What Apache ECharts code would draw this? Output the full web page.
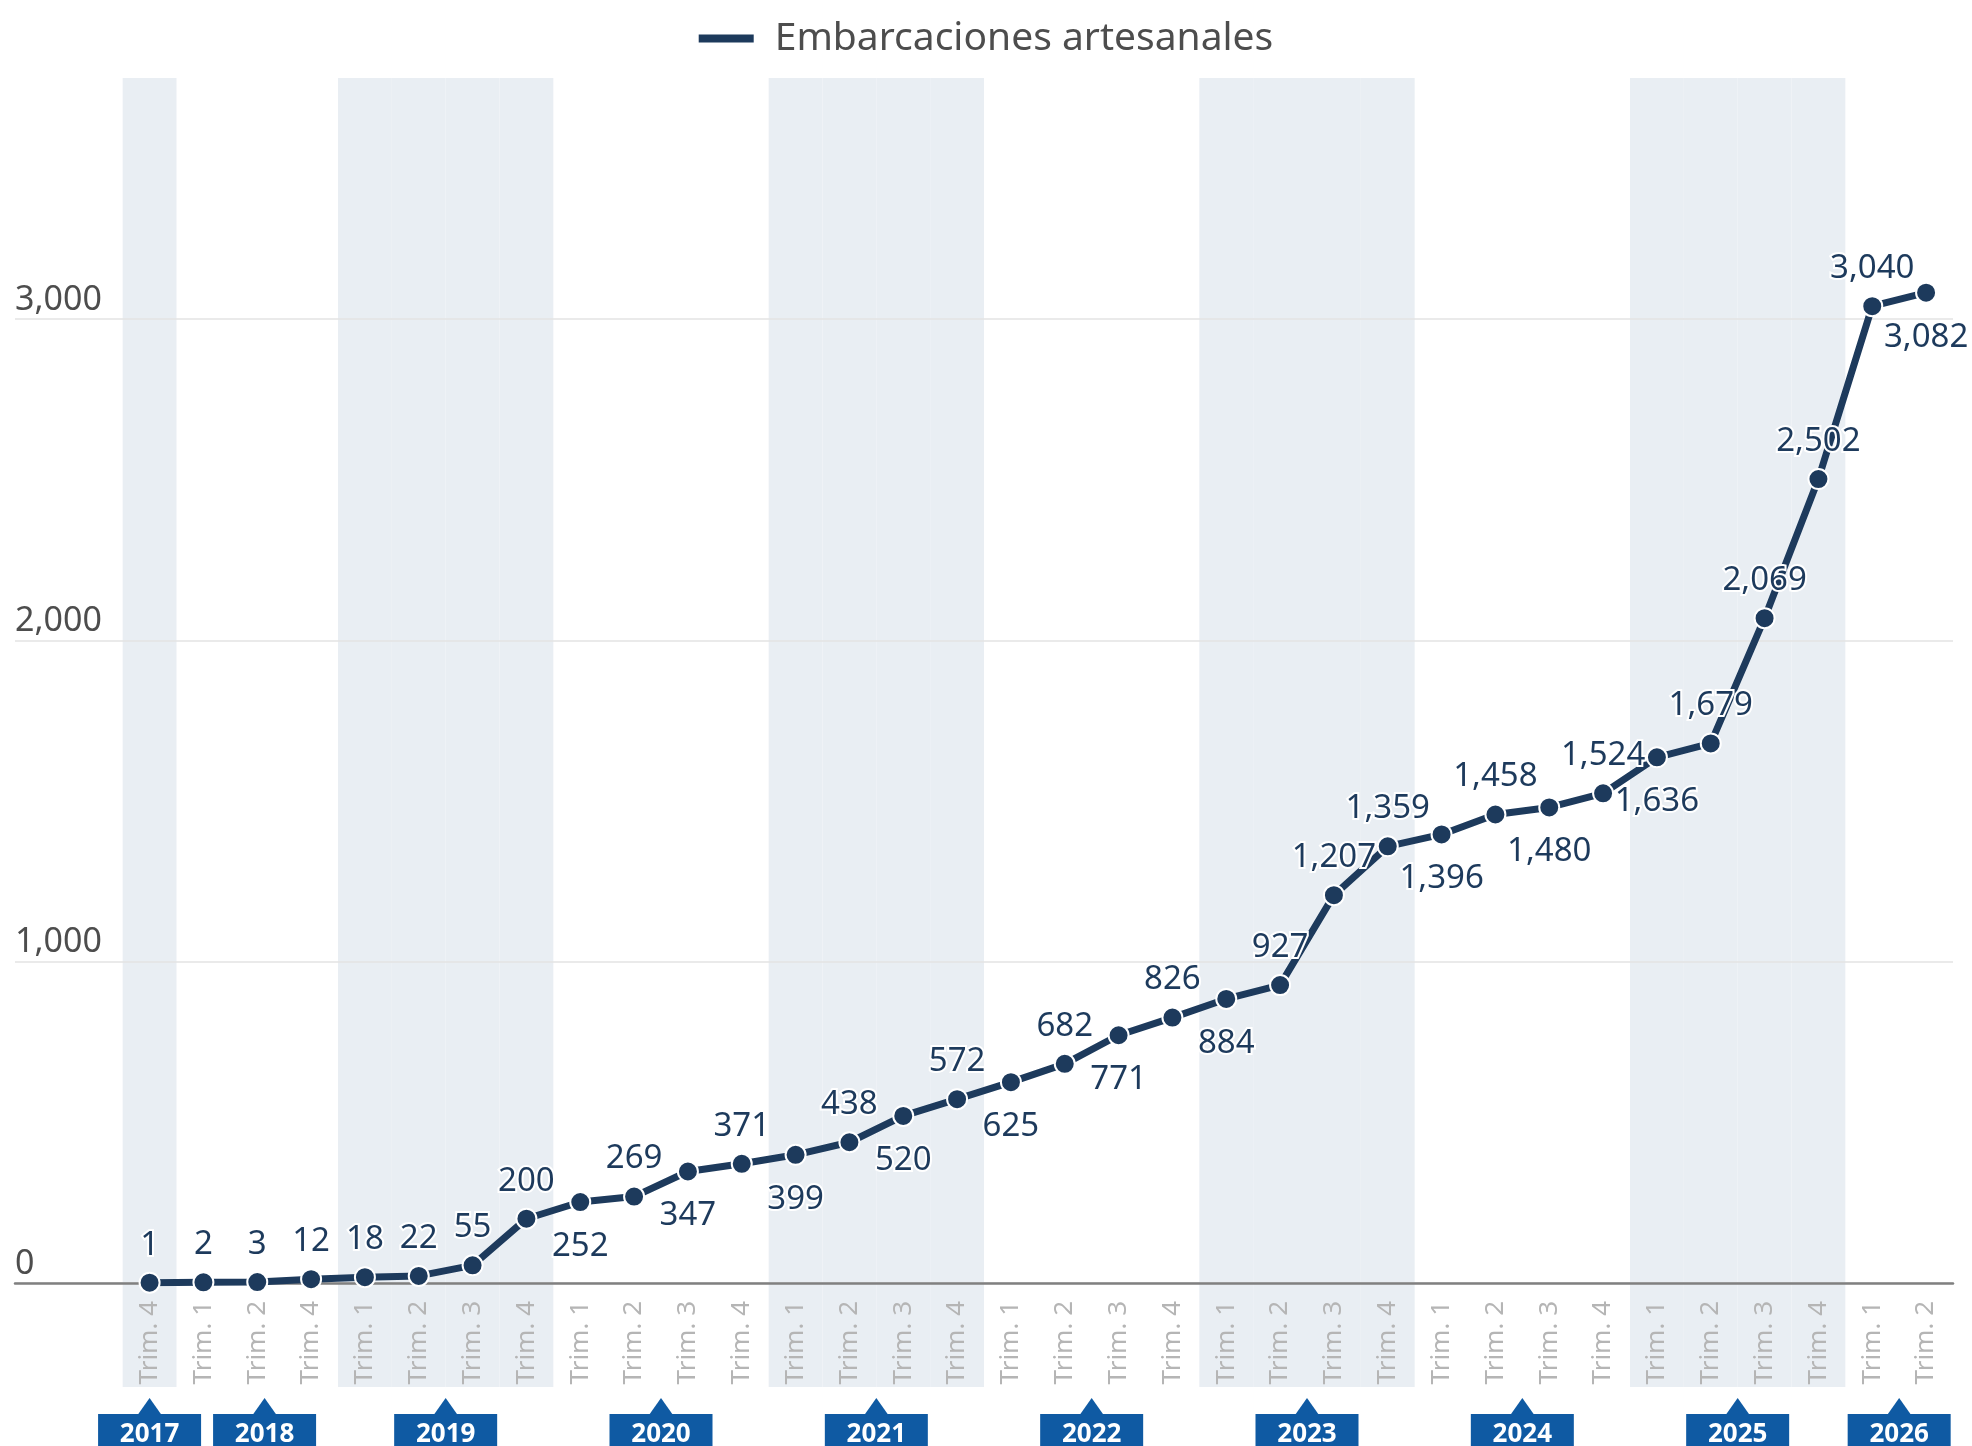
<!DOCTYPE html>
<html>
<head>
<meta charset="utf-8">
<script src="https://cdn.jsdelivr.net/npm/echarts@6.0.0/dist/echarts.min.js"></script>
<style>
html,body{margin:0;padding:0;background:#fff;}
#chart{width:1972px;height:1446px;}
</style>
</head>
<body>
<div id="chart"></div>
<script>
// datos: trimestre, año y número de embarcaciones
var quarters=['Trim. 4',
    'Trim. 1','Trim. 2','Trim. 4',
    'Trim. 1','Trim. 2','Trim. 3','Trim. 4',
    'Trim. 1','Trim. 2','Trim. 3','Trim. 4',
    'Trim. 1','Trim. 2','Trim. 3','Trim. 4',
    'Trim. 1','Trim. 2','Trim. 3','Trim. 4',
    'Trim. 1','Trim. 2','Trim. 3','Trim. 4',
    'Trim. 1','Trim. 2','Trim. 3','Trim. 4',
    'Trim. 1','Trim. 2','Trim. 3','Trim. 4',
    'Trim. 1','Trim. 2'];
var quarterYears=[2017,
    2018,2018,2018,
    2019,2019,2019,2019,
    2020,2020,2020,2020,
    2021,2021,2021,2021,
    2022,2022,2022,2022,
    2023,2023,2023,2023,
    2024,2024,2024,2024,
    2025,2025,2025,2025,
    2026,2026];
var years=[2017,2018,2019,2020,2021,2022,2023,2024,2025,2026];
var boats=[1,2,3,12,18,22,55,200,252,269,347,371,399,438,520,572,625,682,771,826,
    884,927,1207,1359,1396,1458,1480,1524,1636,1679,2069,2502,3040,3082];
var seriesName='Embarcaciones artesanales';

// etiquetas que van debajo del punto
var labelsBelow=[8,10,12,14,16,18,20,24,26,28,33];
var pad=2; // huecos vacíos a la izquierda del eje

var lineColor='#1d3a5c';
var fontFamily='"Noto Sans", sans-serif';

var xData=[];
for(var p=0;p<pad;p++){ xData.push(''); }
xData=xData.concat(quarters);

var lineData=[];
for(var p2=0;p2<pad;p2++){ lineData.push('-'); }
boats.forEach(function(v,i){
    var below=labelsBelow.indexOf(i)>=0;
    lineData.push({
        value:v,
        label:{position:below?'bottom':'top',distance:below?17:10}
    });
});

// franjas por año (años alternos sombreados)
var bandData=quarters.map(function(q,i){
    var shaded=years.indexOf(quarterYears[i])%2===0?1:0;
    return [i+pad,shaded];
});

// rango de índices de cada año
var yearSpans=years.map(function(y){
    var first=-1,last=-1;
    quarterYears.forEach(function(qy,i){
        if(qy===y){
            if(first<0){ first=i; }
            last=i;
        };
    });
    return [first+pad,last+pad];
});
var yearData=years.map(function(y,k){ return [yearSpans[k][0],0,k]; });

var boxW=103,boxGap=12;

function renderBand(params,api){
    if(!api.value(1)){ return; }
    var c=api.coord([api.value(0),0]);
    var w=api.size([1,0])[0];
    var cs=params.coordSys;
    return {
        type:'rect',
        shape:{x:c[0]-w/2,y:cs.y,width:w,height:c[1]-cs.y+104},
        style:{fill:'#e9eef3'}
    };
}

function renderYear(params,api){
    var k=api.value(2);
    var prevRight=-Infinity,left=0,center=0,axisY=0;
    for(var j=0;j<=k;j++){
        var a=api.coord([yearSpans[j][0],0]);
        var b=api.coord([yearSpans[j][1],0]);
        axisY=a[1];
        var ideal=(a[0]+b[0])/2;
        left=Math.max(ideal-boxW/2,prevRight+boxGap);
        prevRight=left+boxW;
        center=left+boxW/2;
    };
    var top=axisY+131;
    return {
        type:'group',
        children:[
            {
                type:'polygon',
                shape:{points:[[center,axisY+115],[center-12,top+1],[center+12,top+1]]},
                style:{fill:'#0f5aa3'}
            },
            {
                type:'rect',
                shape:{x:left,y:top,width:boxW,height:40},
                style:{fill:'#0f5aa3'}
            },
            {
                type:'text',
                style:{
                    x:center,y:top+21,
                    text:String(years[k]),
                    fill:'#fff',
                    font:'bold 26px '+fontFamily,
                    align:'center',verticalAlign:'middle'
                }
            }
        ]
    };
}

var myChart=echarts.init(document.getElementById('chart'));
myChart.setOption({
    animation:false,
    backgroundColor:'#fff',
    textStyle:{fontFamily:fontFamily},
    legend:{
        top:14,
        left:'center',
        data:[{name:seriesName,icon:'rect'}],
        itemWidth:55,
        itemHeight:8,
        itemGap:10,
        itemStyle:{borderWidth:0},
        textStyle:{fontSize:39,color:'#4d4d4d',fontFamily:fontFamily,padding:[0,0,0,16]}
    },
    grid:{left:15,right:19,top:78,bottom:163},
    xAxis:{
        type:'category',
        data:xData,
        boundaryGap:true,
        axisLine:{lineStyle:{color:'#808080',width:2.5}},
        axisTick:{
            alignWithLabel:true,
            interval:function(i){ return i>=pad; },
            length:12,
            lineStyle:{color:'#c8c8c8',width:1.5}
        },
        axisLabel:{
            interval:0,
            rotate:90,
            margin:18,
            color:'#b5b5b5',
            fontSize:26,
            fontFamily:fontFamily
        },
        splitLine:{show:false}
    },
    yAxis:{
        type:'value',
        min:0,
        max:3750,
        interval:1000,
        axisLine:{show:false},
        axisTick:{show:false},
        splitLine:{showMaxLine:false,lineStyle:{color:'#e3e3e3',width:1.5}},
        axisLabel:{
            inside:true,
            showMaxLabel:false,
            margin:0,
            verticalAlign:'bottom',
            lineHeight:38,
            color:'#4d4d4d',
            fontSize:34,
            fontFamily:fontFamily,
            formatter:function(v){ return v.toLocaleString('en-US'); }
        }
    },
    series:[
        {
            type:'custom',
            name:'bands',
            renderItem:renderBand,
            data:bandData,
            encode:{x:0,y:1},
            clip:false,
            silent:true,
            z:-1
        },
        {
            type:'custom',
            name:'years',
            renderItem:renderYear,
            data:yearData,
            encode:{x:0,y:1},
            clip:false,
            silent:true,
            z:5
        },
        {
            type:'line',
            name:seriesName,
            data:lineData,
            symbol:'circle',
            symbolSize:20,
            lineStyle:{color:lineColor,width:7},
            itemStyle:{color:lineColor,borderColor:'#fff',borderWidth:2},
            label:{
                show:true,
                color:lineColor,
                fontSize:33,
                fontFamily:fontFamily,
                textBorderColor:'#fff',
                textBorderWidth:4,
                formatter:function(p){ return Number(p.value).toLocaleString('en-US'); }
            },
            z:3
        }
    ]
});
</script>
</body>
</html>
